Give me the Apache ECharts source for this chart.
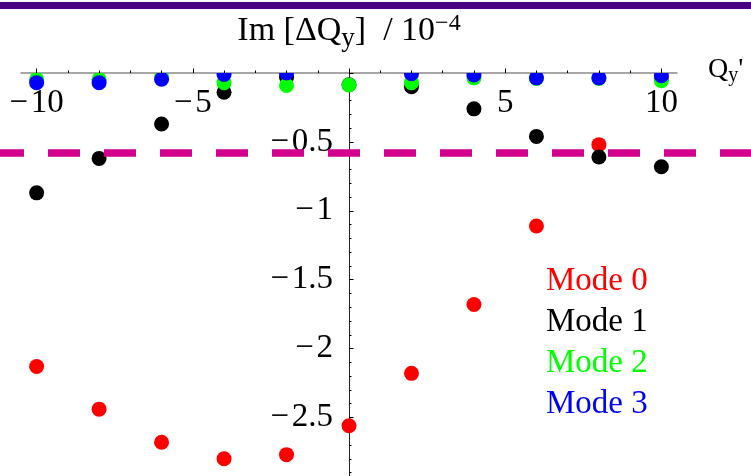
<!DOCTYPE html>
<html>
<head>
<meta charset="utf-8">
<script src="https://cdn.jsdelivr.net/npm/echarts@6/dist/echarts.min.js"></script>
<style>
  html, body { margin: 0; padding: 0; background: #ffffff; }
  #chart { width: 751px; height: 476px; }
</style>
</head>
<body>
<div id="chart"></div>
<script>
// Chromaticity scan: imaginary tune shift (units of 1e-4) per head-tail mode
const qyPrime = [-10, -8, -6, -4, -2, 0, 2, 4, 6, 8, 10];
const mode0 = [-2.13, -2.44, -2.68, -2.80, -2.77, -2.56, -2.18, -1.68, -1.11, -0.52, -0.04];
const mode1 = [-0.87, -0.62, -0.37, -0.14, -0.03, -0.085, -0.10, -0.26, -0.46, -0.61, -0.68];
const mode2 = [-0.045, -0.045, -0.03, -0.07, -0.09, -0.087, -0.07, -0.035, -0.04, -0.04, -0.056];
const mode3 = [-0.07, -0.07, -0.045, -0.01, 0.0, null, -0.005, -0.015, -0.035, -0.035, -0.02];

const modeNames = ['Mode 0', 'Mode 1', 'Mode 2', 'Mode 3'];
const modeColors = ['#ff0000', '#000000', '#00ff00', '#0000ff'];
const modeValues = [mode0, mode1, mode2, mode3];

// Stability threshold level
const thresholdLevel = -0.58;

// Axis extents and ticks
const xRange = [-10.5, 10.5];
const yRange = [-2.925, 0];
const xMajorTicks = [-10, -5, 0, 5, 10];
const xTickLabels = [-10, -5, 5, 10];
const xMinorTicks = [-9, -8, -7, -6, -4, -3, -2, -1, 1, 2, 3, 4, 6, 7, 8, 9];
const yMajorTicks = [-2.5, -2, -1.5, -1, -0.5, 0];
const yTickLabels = [-2.5, -2, -1.5, -1, -0.5];
const yMinorTicks = [];
for (let k = -29; k <= -1; k++) {
  if (k % 5 !== 0) yMinorTicks.push(k / 10);
}

// Plot area (the vertical axis is drawn where Qy' = 0)
const plotLeft = 21, plotRight = 74, plotTop = 73;
const plotWidth = 751 - plotLeft - plotRight;
const yAxisShift = -plotWidth * (0 - xRange[0]) / (xRange[1] - xRange[0]);

const serif = '"Liberation Serif", "DejaVu Serif", serif';
const fmtNum = v => (v < 0 ? '\u2212\u200A' + String(Math.abs(v)) : String(v));

function toPoints(values) {
  const pts = [];
  qyPrime.forEach((x, i) => { if (values[i] !== null) pts.push([x, values[i]]); });
  return pts;
}

// Filled dots, clipped at the plot range like the frame edge
function dotRenderer(color) {
  return function (params, api) {
    const p = api.coord([api.value(0), api.value(1)]);
    return { type: 'circle', shape: { cx: p[0], cy: p[1], r: 7.5 }, style: { fill: color } };
  };
}

const chart = echarts.init(document.getElementById('chart'), null, { renderer: 'canvas' });

const option = {
  backgroundColor: '#ffffff',
  animation: false,
  graphic: [{
    type: 'rect',
    shape: { x: 0, y: 2, width: 751, height: 7 },
    style: { fill: '#4b0082' },
    silent: true
  }],
  legend: {
    orient: 'vertical',
    left: 541,
    top: 265,
    padding: 0,
    itemWidth: 0,
    itemHeight: 0,
    itemGap: 8,
    icon: 'rect',
    selectedMode: false,
    textStyle: { fontFamily: serif, fontSize: 33, lineHeight: 33 },
    data: modeNames.map((n, i) => ({ name: n, textStyle: { color: modeColors[i] } }))
  },
  grid: [
    { left: plotLeft, right: plotRight, top: plotTop, bottom: 0, outerBoundsMode: 'none', containLabel: false },
    { left: 0, right: 0, top: plotTop, bottom: 0, outerBoundsMode: 'none', containLabel: false }
  ],
  xAxis: [
    {
      type: 'value', gridIndex: 0, position: 'top', min: xRange[0], max: xRange[1],
      name: "{q|Q}{s|y}{q|'}",
      nameLocation: 'end', nameGap: 31, nameMoveOverlap: false,
      nameTextStyle: {
        padding: [0, 0, 6, 0],
        rich: {
          q: { fontFamily: serif, fontSize: 28, color: '#000' },
          s: { fontFamily: serif, fontSize: 20, color: '#000', padding: [12, 0, 0, 0] }
        }
      },
      axisLine: { show: true, onZero: false, lineStyle: { color: '#8a8a8a', width: 1.5 } },
      axisTick: { show: true, inside: false, length: 4.5, customValues: xMajorTicks, lineStyle: { color: '#000', width: 1 } },
      axisLabel: {
        show: true, inside: true, margin: 14, customValues: xTickLabels,
        fontFamily: serif, fontSize: 33, color: '#000', formatter: fmtNum
      },
      splitLine: { show: false }
    },
    {
      type: 'value', gridIndex: 0, position: 'top', min: xRange[0], max: xRange[1],
      axisLine: { show: false, onZero: false },
      axisTick: { show: true, inside: false, length: 2.5, customValues: xMinorTicks, lineStyle: { color: '#000', width: 1 } },
      axisLabel: { show: false },
      splitLine: { show: false }
    },
    { type: 'value', gridIndex: 1, min: 0, max: 1, show: false }
  ],
  yAxis: [
    {
      type: 'value', gridIndex: 0, position: 'left', offset: yAxisShift, min: yRange[0], max: yRange[1],
      name: '{t|Im [\u0394Q}{s|y}{t|]  / 10}{p|\u22124}',
      nameLocation: 'end', nameGap: 21, nameMoveOverlap: false,
      nameTextStyle: {
        align: 'center',
        rich: {
          t: { fontFamily: serif, fontSize: 34, color: '#000' },
          s: { fontFamily: serif, fontSize: 27, color: '#000', padding: [14, 0, 0, 0] },
          p: { fontFamily: serif, fontSize: 24, color: '#000', padding: [0, 0, 16, 0] }
        }
      },
      axisLine: { show: true, onZero: false, lineStyle: { color: '#222', width: 1 } },
      axisTick: { show: true, inside: true, length: 4.5, customValues: yMajorTicks, lineStyle: { color: '#000', width: 1 } },
      axisLabel: {
        show: true, margin: 16, customValues: yTickLabels,
        fontFamily: serif, fontSize: 33, color: '#000', formatter: fmtNum
      },
      splitLine: { show: false }
    },
    {
      type: 'value', gridIndex: 0, position: 'left', offset: yAxisShift, min: yRange[0], max: yRange[1],
      axisLine: { show: false, onZero: false },
      axisTick: { show: true, inside: true, length: 2.5, customValues: yMinorTicks, lineStyle: { color: '#000', width: 1 } },
      axisLabel: { show: false },
      splitLine: { show: false }
    },
    { type: 'value', gridIndex: 1, min: yRange[0], max: yRange[1], show: false }
  ],
  series: [
    {
      type: 'line',
      xAxisIndex: 2, yAxisIndex: 2,
      data: [[0, thresholdLevel], [1, thresholdLevel]],
      symbol: 'none',
      silent: true,
      lineStyle: { color: '#d2008c', width: 7.5, type: [32, 24], dashOffset: 8, cap: 'butt' }
    }
  ].concat(modeNames.map((n, i) => ({
    name: n,
    type: 'custom',
    xAxisIndex: 0, yAxisIndex: 0,
    clip: true,
    itemStyle: { color: modeColors[i] },
    encode: { x: 0, y: 1 },
    renderItem: dotRenderer(modeColors[i]),
    data: toPoints(modeValues[i])
  })))
};

chart.setOption(option);
</script>
</body>
</html>
